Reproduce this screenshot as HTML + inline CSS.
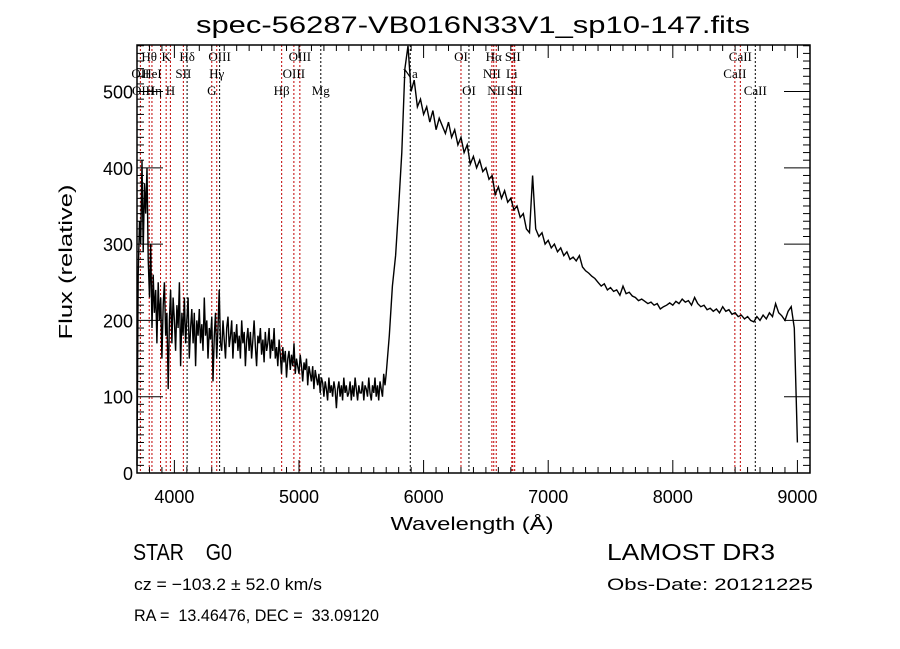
<!DOCTYPE html>
<html><head><meta charset="utf-8"><style>
html,body{margin:0;padding:0;background:#fff;}
svg{display:block;font-family:"Liberation Sans",sans-serif;}
text{white-space:pre;}
.lab{font-family:"Liberation Serif",serif;font-size:13px;}
</style></head><body>
<svg id="chart" width="900" height="649" viewBox="0 0 900 649" xml:space="preserve">
<rect width="900" height="649" fill="#fff"/>
<text x="473" y="33" text-anchor="middle" font-size="24" textLength="554" lengthAdjust="spacingAndGlyphs">spec-56287-VB016N33V1_sp10-147.fits</text>
<g id="lines"></g>
<g id="labels"></g>
<path id="spec" fill="none" stroke="#000" stroke-width="1.4" stroke-linejoin="miter"/>
<rect x="137" y="45" width="673" height="428" fill="none" stroke="#000" stroke-width="1.5"/>
<g id="ticks" stroke="#000" stroke-width="1"></g>
<g id="ticklabels" font-size="18"></g>
<text x="472" y="530" text-anchor="middle" font-size="18" textLength="163" lengthAdjust="spacingAndGlyphs">Wavelength (Å)</text>
<text transform="translate(72,262) rotate(-90)" text-anchor="middle" font-size="18" textLength="155" lengthAdjust="spacingAndGlyphs">Flux (relative)</text>
<text x="133" y="560" font-size="23" textLength="99" lengthAdjust="spacingAndGlyphs">STAR    G0</text>
<text x="607" y="560" font-size="23" textLength="168" lengthAdjust="spacingAndGlyphs">LAMOST DR3</text>
<text x="134" y="590" font-size="17" textLength="188" lengthAdjust="spacingAndGlyphs">cz = −103.2 ± 52.0 km/s</text>
<text x="607" y="590" font-size="17" textLength="206" lengthAdjust="spacingAndGlyphs">Obs-Date: 20121225</text>
<text x="134" y="621" font-size="17" textLength="245" lengthAdjust="spacingAndGlyphs">RA =  13.46476, DEC =  33.09120</text>
</svg>
<script>
const blueStart = 3700;
const blueStep = 10;
const blueFlux = [10,260,330,300,410,290,380,340,400,280,
230,300,190,260,210,240,170,250,200,230,
150,220,250,180,210,110,200,240,170,230,
200,160,220,190,250,140,210,180,230,170,
200,230,150,190,215,170,210,140,200,180,
215,170,195,160,230,180,200,150,190,175,
205,120,180,210,150,190,240,170,160,200,
175,150,190,205,165,180,200,150,185,170,
195,160,180,150,200,170,185,140,175,190,
160,185,150,175,200,165,140,180,170,190,
155,175,145,185,160,170,190,150,175,160,
190,150,165,140,175,155,130,165,145,160,
125,150,160,135,155,140,170,130,150,140,
130,155,140,120,145,135,150,115,140,130,
120,140,110,135,125,115,130,105,125,118,
100,120,110,95,125,105,115,100,120,110,
85,110,120,100,115,95,125,105,115,100,
105,120,95,115,100,125,110,95,115,105,
105,120,95,115,110,100,125,105,95,115,
105,125,100,115,95,120,110,100,130,115];
const redStart = 5700;
const redStep = 25;
const redFlux = [130,180,245,285,350,420,530,560,500,515,480,490,470,480,460,475,450,465,455,445,460,440,450,430,440,420,430,405,415,400,410,395,400,385,390,365,375,360,370,355,360,345,350,335,340,320,315,390,320,310,315,300,305,295,300,290,295,285,290,280,283,278,285,270,265,262,258,255,250,245,248,240,243,238,240,233,245,235,237,232,230,226,228,225,222,224,220,222,215,218,220,223,220,225,222,228,224,226,220,230,222,218,220,214,216,212,215,210,218,212,214,208,210,205,207,202,205,200,198,205,200,207,202,210,205,222,210,206,200,212,218,190,40];
const lineWaves = [3727,3798,3820,3889,3934,3968,4072,4102,4300,4340,4363,4861,4959,5007,5175,5893,6300,6364,6548,6563,6583,6716,6708,6731,8498,8542,8662];
const lineColors = ["r","r","r","r","r","r","r","k","r","r","k","r","r","r","k","k","r","k","r","r","r","r","r","r","r","r","k"];
const labelNames = ["Hθ","K","Hδ","OIII","OIII","OI","Hα","SII","CaII","OII","HeI","SII","Hγ","OIII","Na","NII","Li","CaII","OIII","Hη","H","G","Hβ","Mg","OI","NII","SII","CaII"];
const labelWaves = [3798,3934,4102,4363,5007,6300,6563,6716,8542,3727,3820,4072,4340,4959,5893,6548,6708,8498,3750,3835,3968,4300,4861,5175,6364,6583,6731,8662];
const labelRows = [0,0,0,0,0,0,0,0,0,1,1,1,1,1,1,1,1,1,2,2,2,2,2,2,2,2,2,2];
const xTicks = [4000,5000,6000,7000,8000,9000];
const yTicks = [0,100,200,300,400,500];
const X0=137,X1=810,Y0=473,Y1=45,WMIN=3700,WMAX=9101,FMAX=561;
const xs = w => X0+(w-WMIN)/(WMAX-WMIN)*(X1-X0);
const ys = f => Y0-f/FMAX*(Y0-Y1);
const NS="http://www.w3.org/2000/svg";
function mk(tag,attrs,parent){const e=document.createElementNS(NS,tag);for(const k in attrs)e.setAttribute(k,attrs[k]);parent.appendChild(e);return e;}
let d="";
blueFlux.forEach((f,i)=>{const w=blueStart+i*blueStep;d+=(d?"L":"M")+xs(w).toFixed(1)+","+ys(Math.min(f,FMAX)).toFixed(1);});
redFlux.forEach((f,i)=>{const w=redStart+i*redStep;d+="L"+xs(w).toFixed(1)+","+ys(Math.min(f,FMAX)).toFixed(1);});
document.getElementById("spec").setAttribute("d",d);
const gl=document.getElementById("lines");
lineWaves.forEach((w,i)=>{const x=xs(w);
 const l=mk("line",{x1:x,x2:x,y1:Y1,y2:Y0,stroke:lineColors[i]==="r"?"#c00000":"#000","stroke-width":1,"stroke-dasharray":"2,2"},gl);
 
 });
const glb=document.getElementById("labels");
const rowY=[61,78,95];
labelNames.forEach((n,i)=>{const t=mk("text",{x:xs(labelWaves[i]),y:rowY[labelRows[i]],"text-anchor":"middle",class:"lab"},glb);t.textContent=n;
 
 });
const gt=document.getElementById("ticks");
for(let w=3700;w<=9100;w+=100){const x=xs(w);const maj=w%1000===0;const L=maj?13:6;
 mk("line",{x1:x,x2:x,y1:Y0,y2:Y0-L},gt);mk("line",{x1:x,x2:x,y1:Y1,y2:Y1+L},gt);}
for(let f=0;f<=560;f+=10){const y=ys(f);const maj=f%100===0;const L=maj?26:7;
 mk("line",{x1:X0,x2:X0+L,y1:y,y2:y},gt);mk("line",{x1:X1,x2:X1-L,y1:y,y2:y},gt);}
const gtl=document.getElementById("ticklabels");
xTicks.forEach(v=>{const t=mk("text",{x:xs(v),y:503,"text-anchor":"middle"},gtl);t.textContent=v;
 
 });
yTicks.forEach(v=>{const t=mk("text",{x:133,y:ys(v)+7,"text-anchor":"end"},gtl);t.textContent=v;
 
 });
</script>
</body></html>
